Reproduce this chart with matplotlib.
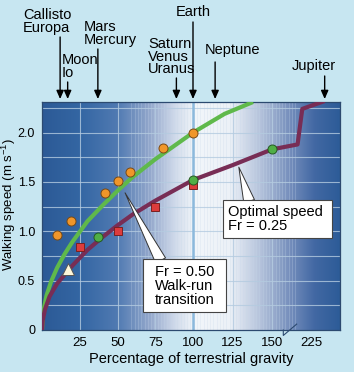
import numpy as np
import matplotlib
matplotlib.use("Agg")
import matplotlib.pyplot as plt
from matplotlib.patches import Rectangle

plt.rcParams['font.family'] = 'Liberation Sans'
plt.rcParams['mathtext.fontset'] = 'custom'
plt.rcParams['mathtext.rm'] = 'Liberation Sans'
plt.rcParams['mathtext.default'] = 'regular'

# values: % of terrestrial gravity -> walking speed (m/s)
transition_g = [0, 1, 3, 6, 10, 15, 20, 30, 40, 50, 60, 75, 100, 120, 138]
transition_v = [0, 0.20, 0.35, 0.49, 0.63, 0.77, 0.89, 1.10, 1.26, 1.41, 1.55, 1.73, 2.00, 2.19, 2.31]

optimal_g = [0, 0.5, 2, 5, 10, 20, 30, 40, 50, 60, 75, 100, 125, 150, 213, 217, 236]
optimal_v = [0, 0.10, 0.21, 0.34, 0.47, 0.65, 0.81, 0.94, 1.06, 1.17, 1.31, 1.52, 1.67, 1.83, 1.88, 2.24, 2.32]

orange_g = [10, 19, 42, 50, 58, 80, 100]
orange_v = [0.96, 1.10, 1.39, 1.51, 1.60, 1.84, 2.00]
red_g = [25, 50, 75, 100]
red_v = [0.84, 1.00, 1.25, 1.47]
green_g = [37, 100, 150]
green_v = [0.94, 1.52, 1.83]
triangle_g = [17]
triangle_v = [0.62]

planet_labels = ["Callisto\nEuropa", "Moon\nIo", "Mars\nMercury", "Saturn\nVenus\nUranus",
                 "Earth", "Neptune", "Jupiter"]
planet_gravity = [12, 17, 37, 89, 100, 114, 236]

x_ticks = [25, 50, 75, 100, 125, 150, 225]
y_ticks = [0, 0.5, 1.0, 1.5, 2.0]
y_ticklabels = ["0", "0.5", "1.0", "1.5", "2.0"]

W, H = 354, 372

# broken gravity axis: compressed gap between ~160% and ~207%
G_KNOTS = [0, 100, 150, 161, 207, 249]
U_KNOTS = [42, 193, 272, 289.5, 290.5, 340]


def forward(g):
    return np.interp(g, G_KNOTS, U_KNOTS)


def inverse(u):
    return np.interp(u, U_KNOTS, G_KNOTS)


fig = plt.figure(figsize=(W / 100, H / 100), dpi=100)
fig.patch.set_facecolor('#c7e6f1')
ax = fig.add_axes([42 / W, 1 - 330 / H, 298 / W, 228 / H])
ax.set_xscale('function', functions=(forward, inverse))

# background gradient (dark blue -> white around Earth -> dark blue)
stops_px = [42, 80, 117, 150, 175, 195, 230, 260, 290, 315, 340]
stops_rgb = np.array([(44, 90, 150), (52, 102, 163), (80, 122, 178), (148, 168, 204),
                      (208, 218, 234), (242, 246, 250), (236, 241, 247), (182, 196, 220),
                      (118, 143, 188), (66, 104, 163), (45, 92, 152)]) / 255
cols = np.arange(42, 341)
grad = np.stack([np.interp(cols, stops_px, stops_rgb[:, k]) for k in range(3)], axis=-1)
ax.imshow(grad[np.newaxis, :, :], extent=[0, 1, 0, 1], transform=ax.transAxes,
          aspect='auto', zorder=0)

# fine vertical texture lines
for fx in np.arange(0.30, 0.86, 0.011):
    ax.axvline(inverse(42 + fx * 298), color='#c8d8ea', lw=0.4, alpha=0.45, zorder=1)

for yv in np.arange(0.25, 2.3, 0.25):
    ax.axhline(yv, color='#b4cbe0', lw=0.8, alpha=0.8, zorder=1)
for xv in [25, 50, 75, 125, 150]:
    ax.axvline(xv, color='#b4cbe0', lw=0.8, alpha=0.8, zorder=1)
ax.axvline(100, color='#8cb9dc', lw=1.8, zorder=1)

ax.plot(transition_g, transition_v, color='#5fb94b', lw=3, solid_capstyle='butt', zorder=3)
ax.plot(optimal_g, optimal_v, color='#782d55', lw=3, solid_capstyle='butt', zorder=3)

ax.plot(red_g, red_v, 's', ms=6, mfc='#dc3c3c', mec='#7a2020', mew=0.7, zorder=4)
ax.plot(green_g, green_v, 'o', ms=6.5, mfc='#50af46', mec='#245a22', mew=0.7, zorder=5)
ax.plot(orange_g, orange_v, 'o', ms=6.5, mfc='#f0962a', mec='#7a4a14', mew=0.7, zorder=5)
ax.plot(triangle_g, triangle_v, '^', ms=8, mfc='#fff6d8', mec='#555555', mew=0.7, zorder=5)

ax.set_xlim(0, 249)
ax.set_ylim(0, 2.31)
ax.set_xticks(x_ticks)
ax.set_xticklabels([str(t) for t in x_ticks])
ax.set_yticks(y_ticks)
ax.set_yticklabels(y_ticklabels)
ax.tick_params(axis='both', length=0, colors='black')
ax.tick_params(axis='x', pad=5, labelsize=9.5)
ax.tick_params(axis='y', pad=5, labelsize=9)
for sp in ax.spines.values():
    sp.set_color('#2c4a70')
    sp.set_linewidth(0.9)

ax.set_xlabel("Percentage of terrestrial gravity", fontsize=10.5, labelpad=2)
ax.set_ylabel("Walking speed (m s$^{-1}$)", fontsize=9.5)
ax.yaxis.set_label_coords(-0.081, 0.55)

# callout boxes
callouts = [
    # tip (data), base (axes frac), box x0, y0, x1, y1, text pos, text
    ((55, 1.39), (0.398, 0.305), (0.340, 0.080, 0.617, 0.310), (0.379, 0.195),
     "Fr = 0.50\nWalk-run\ntransition"),
    ((129, 1.65), (0.695, 0.565), (0.606, 0.402, 0.972, 0.570), (0.625, 0.487),
     "Optimal speed\nFr = 0.25"),
]
for tip, base, box, tpos, txt in callouts:
    ax.annotate("", xy=tip, xycoords='data', xytext=base, textcoords='axes fraction',
                arrowprops=dict(arrowstyle='wedge,tail_width=0.8,shrink_factor=0.5',
                                fc='white', ec='#333333', lw=0.7, shrinkA=0, shrinkB=0,
                                mutation_scale=10),
                zorder=6)
    x0, y0, x1, y1 = box
    ax.add_patch(Rectangle((x0, y0), x1 - x0, y1 - y0, transform=ax.transAxes,
                           fc='white', ec='#444444', lw=0.8, zorder=7))
    ax.text(tpos[0], tpos[1], txt, transform=ax.transAxes, ha='left', va='center',
            fontsize=10.5, linespacing=1.0, zorder=8)

# planet labels with arrows down to the top of the plot
label_layout = [(23, 10, 'left', 37), (62, 55, 'left', 82), (84, 22, 'left', 49),
                (148, 39, 'left', 78), (193, 7, 'center', 22), (232.8, 45, 'center', 62),
                (313.8, 61, 'center', 76)]
for name, g, (px, py, ha, ystart) in zip(planet_labels, planet_gravity, label_layout):
    fig.text(px / W, 1 - (py - 2) / H, name, ha=ha, va='top', fontsize=10.5,
             linespacing=0.88, multialignment='left')
    ax.annotate("", xy=(g, 1.013), xycoords=('data', 'axes fraction'),
                xytext=(g, 1 - ystart / H), textcoords=('data', 'figure fraction'),
                arrowprops=dict(arrowstyle='-|>,head_length=0.5,head_width=0.22',
                                color='black', lw=1.0, shrinkA=0, shrinkB=0),
                annotation_clip=False)

# axis break mark on the bottom axis
bx = [(283.3 - 42) / 298, (283.3 - 42) / 298, (296.7 - 42) / 298]
by = [0.0, -0.024, 0.026]
ax.plot(bx, by, color='#2c4a70', lw=0.8, transform=ax.transAxes, clip_on=False, zorder=9)

fig.savefig("out.png", dpi=100, facecolor=fig.get_facecolor())
